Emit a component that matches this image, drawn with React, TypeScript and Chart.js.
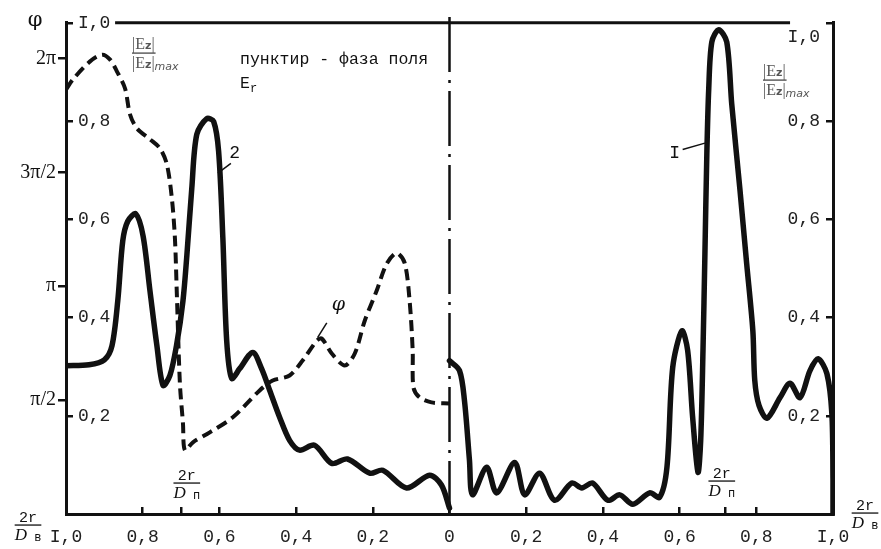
import React, { useEffect, useRef } from 'react';
import { Chart, registerables } from 'chart.js';

Chart.register(...registerables);

// ---- data (x = 2r/D_в read on the axis; left half is plotted to the left of 0) ----
const curve2R = [1.0, 0.94, 0.9, 0.88, 0.865, 0.852, 0.839, 0.818, 0.799, 0.781, 0.763, 0.747, 0.729, 0.711, 0.695, 0.685, 0.672, 0.659, 0.633, 0.615, 0.602, 0.591, 0.581, 0.568, 0.547, 0.513, 0.49, 0.469, 0.443, 0.417, 0.391, 0.352, 0.307, 0.266, 0.208, 0.174, 0.112, 0.052, 0.021, 0.0];
const curve2E = [0.302, 0.304, 0.314, 0.343, 0.434, 0.556, 0.596, 0.611, 0.566, 0.454, 0.343, 0.262, 0.282, 0.347, 0.434, 0.525, 0.663, 0.773, 0.805, 0.799, 0.738, 0.562, 0.353, 0.276, 0.296, 0.329, 0.296, 0.252, 0.197, 0.15, 0.13, 0.14, 0.103, 0.112, 0.083, 0.089, 0.053, 0.079, 0.059, 0.012];

// phase of E_r, in units of π/2
const phaseR = [1.0, 0.982, 0.938, 0.906, 0.885, 0.867, 0.846, 0.833, 0.815, 0.781, 0.755, 0.737, 0.724, 0.716, 0.711, 0.703, 0.695, 0.69, 0.669, 0.625, 0.565, 0.495, 0.461, 0.417, 0.383, 0.346, 0.333, 0.307, 0.273, 0.247, 0.221, 0.19, 0.164, 0.138, 0.117, 0.104, 0.096, 0.094, 0.078, 0.047, 0.0];
const phaseV = [3.727, 3.815, 3.972, 4.033, 3.99, 3.885, 3.736, 3.508, 3.386, 3.29, 3.211, 3.071, 2.773, 2.423, 1.934, 1.146, 0.796, 0.56, 0.63, 0.717, 0.849, 1.085, 1.172, 1.216, 1.347, 1.522, 1.54, 1.409, 1.304, 1.409, 1.697, 1.96, 2.196, 2.292, 2.205, 1.872, 1.435, 1.111, 1.024, 0.98, 0.971];

const curveIR = [0.0, 0.026, 0.039, 0.052, 0.06, 0.097, 0.123, 0.17, 0.196, 0.235, 0.274, 0.319, 0.345, 0.373, 0.413, 0.444, 0.478, 0.522, 0.548, 0.567, 0.582, 0.606, 0.621, 0.634, 0.648, 0.655, 0.661, 0.666, 0.671, 0.676, 0.684, 0.702, 0.723, 0.736, 0.757, 0.775, 0.791, 0.796, 0.807, 0.828, 0.862, 0.888, 0.914, 0.94, 0.961, 0.984, 0.997, 1.0, 1.0];
const curveIE = [0.312, 0.292, 0.231, 0.11, 0.039, 0.095, 0.043, 0.105, 0.039, 0.083, 0.028, 0.063, 0.053, 0.063, 0.028, 0.039, 0.02, 0.043, 0.034, 0.095, 0.298, 0.373, 0.333, 0.197, 0.085, 0.15, 0.333, 0.529, 0.732, 0.866, 0.961, 0.986, 0.961, 0.834, 0.663, 0.509, 0.373, 0.272, 0.221, 0.195, 0.237, 0.266, 0.237, 0.292, 0.316, 0.286, 0.205, 0.069, 0.0];

// ticks
const xTickVals = [-1, -0.8, -0.6, -0.4, -0.2, 0, 0.2, 0.4, 0.6, 0.8, 1];
const dpMarks = [-0.7, 0.72]; // 2r/D_п markers
const ezTicks = [0.2, 0.4, 0.6, 0.8, 1.0];
const phiTicks = [1, 2, 3, 4];
const phiLabels = ['π/2', 'π', '3π/2', '2π'];
const phiMax = 4.313;

// decorations (data coordinates)
const topLineX = [-0.872, 0.888];
const centreLineY = [1.012, 0];
const leader2 = [[-0.604, 0.694], [-0.57, 0.714]];
const leaderPhi = [[-0.344, 0.359], [-0.32, 0.389]];
const leaderI = [[0.608, 0.742], [0.666, 0.755]];

const INK = '#111';
const MONO = '"Liberation Mono", "DejaVu Sans Mono", monospace';
const SERIF = '"Liberation Serif", "DejaVu Serif", serif';

const fmt = (v: number) => {
  if (dpMarks.includes(v)) return '';
  const a = Math.abs(v);
  if (a === 1) return 'I,0';
  if (a === 0) return '0';
  return a.toFixed(1).replace('.', ',');
};

type Part = [string, string, number];
function partsWidth(ctx: CanvasRenderingContext2D, parts: Part[]) {
  let w = 0;
  for (const [t, f] of parts) { ctx.font = f; w += ctx.measureText(t).width; }
  return w;
}
function drawParts(ctx: CanvasRenderingContext2D, x: number, y: number, parts: Part[]) {
  let cx = x;
  ctx.textAlign = 'left';
  for (const [t, f, dy] of parts) { ctx.font = f; ctx.fillText(t, cx, y + dy); cx += ctx.measureText(t).width; }
  return cx - x;
}

function rdFrac(ctx: CanvasRenderingContext2D, cx: number, barY: number, sub: string) {
  const num: Part[] = [['2r', `15px ${MONO}`, 0]];
  const den: Part[] = [['D', `italic 17px ${SERIF}`, 0], [' ' + sub, `12px ${MONO}`, 1]];
  const wn = partsWidth(ctx, num);
  const wd = partsWidth(ctx, den);
  const w = Math.max(wn, wd);
  drawParts(ctx, cx - wn / 2, barY - 3, num);
  ctx.fillRect(cx - w / 2, barY - 0.6, w, 1.3);
  drawParts(ctx, cx - wd / 2, barY + 15, den);
}

function ezFrac(ctx: CanvasRenderingContext2D, x0: number, barY: number) {
  ctx.fillStyle = '#555';
  const num: Part[] = [['|', `16px ${SERIF}`, 0], ['E', `16px ${SERIF}`, 0], ['z', `bold 11px "DejaVu Sans"`, 0], ['|', `16px ${SERIF}`, 0]];
  const den: Part[] = [['|', `16px ${SERIF}`, 0], ['E', `16px ${SERIF}`, 0], ['z', `bold 11px "DejaVu Sans"`, 0], ['|', `16px ${SERIF}`, 0], ['max', `italic 11px "DejaVu Sans"`, 2]];
  const wn = drawParts(ctx, x0, barY - 4, num);
  ctx.fillRect(x0, barY - 0.6, wn + 1, 1.4);
  drawParts(ctx, x0, barY + 15, den);
  ctx.fillStyle = INK;
}

const overlay = {
  id: 'overlay',
  afterDraw(chart: any) {
    const { ctx, scales } = chart;
    const xs = scales.x;
    const ys = scales.yL;
    const yr = scales.yR;
    const px = (v: number) => xs.getPixelForValue(v);
    const py = (v: number) => ys.getPixelForValue(v);
    ctx.save();
    ctx.fillStyle = INK;
    ctx.textBaseline = 'alphabetic';

    // φ axis title
    ctx.font = `21px "DejaVu Serif"`;
    ctx.textAlign = 'center';
    ctx.textBaseline = 'middle';
    ctx.fillText('φ', 35, 21);

    // right-axis top label sits just below its tick
    ctx.fillStyle = '#222';
    ctx.font = `18px ${MONO}`;
    ctx.textAlign = 'right';
    ctx.fillText(fmt(1), yr.left - 13, yr.getPixelForValue(1) + 14);
    ctx.fillStyle = INK;
    ctx.textBaseline = 'alphabetic';

    // |Ez| / |Ez|max titles
    ezFrac(ctx, 132, 53);
    ezFrac(ctx, 763, 80);

    // legend note
    ctx.font = `16.5px ${MONO}`;
    ctx.textAlign = 'left';
    ctx.fillText('пунктир - фаза поля', 240, 64);
    drawParts(ctx, 240, 88, [['E', `16.5px ${MONO}`, 0], ['r', `12px ${MONO}`, 4]]);

    // curve labels
    ctx.textBaseline = 'middle';
    ctx.textAlign = 'center';
    ctx.font = `18px ${MONO}`;
    ctx.fillText('2', px(-0.56), py(0.735));
    ctx.fillText('I', px(0.587), py(0.735));
    ctx.font = `italic 19px "DejaVu Serif"`;
    ctx.fillText('φ', px(-0.29), py(0.425));
    ctx.textBaseline = 'alphabetic';

    // 2r/D fractions
    rdFrac(ctx, px(-0.685), 483, 'п');
    rdFrac(ctx, px(0.71), 481, 'п');
    rdFrac(ctx, 28, 525, 'в');
    rdFrac(ctx, 865, 513, 'в');
    ctx.restore();
  },
};

const line = (xs: number[], ys: number[], sign: number) => xs.map((r, i) => ({ x: sign * r, y: ys[i] }));
const seg = (pts: number[][]) => pts.map(([x, y]) => ({ x, y }));

export default function App() {
  const ref = useRef<HTMLCanvasElement>(null);
  useEffect(() => {
    const chart = new Chart(ref.current as HTMLCanvasElement, {
      type: 'line',
      data: {
        datasets: [
          {
            data: line(curve2R, curve2E, -1), yAxisID: 'yL', borderColor: INK, borderWidth: 5.5,
            tension: 0.3, pointRadius: 0, borderJoinStyle: 'round', borderCapStyle: 'round',
          },
          {
            data: line(curveIR, curveIE, 1), yAxisID: 'yL', borderColor: INK, borderWidth: 5.5,
            tension: 0.3, pointRadius: 0, borderJoinStyle: 'round', borderCapStyle: 'round',
          },
          {
            data: line(phaseR, phaseV, -1), yAxisID: 'yPhi', borderColor: INK, borderWidth: 4,
            borderDash: [11, 6], tension: 0.3, pointRadius: 0,
          },
          {
            data: centreLineY.map((y) => ({ x: 0, y })), yAxisID: 'yL', borderColor: INK, borderWidth: 2.5,
            borderDash: [55, 8, 3, 8], pointRadius: 0, clip: false as any,
          },
          {
            data: topLineX.map((x) => ({ x, y: 1.0 })), yAxisID: 'yL', borderColor: INK, borderWidth: 3,
            pointRadius: 0, clip: false as any,
          },
          { data: seg(leader2), yAxisID: 'yL', borderColor: INK, borderWidth: 1.5, pointRadius: 0 },
          { data: seg(leaderPhi), yAxisID: 'yL', borderColor: INK, borderWidth: 1.5, pointRadius: 0 },
          { data: seg(leaderI), yAxisID: 'yL', borderColor: INK, borderWidth: 1.5, pointRadius: 0 },
        ],
      },
      options: {
        responsive: false,
        maintainAspectRatio: false,
        animation: false,
        events: [],
        layout: { padding: { top: 21, left: 0, right: 0, bottom: 0 } },
        plugins: { legend: { display: false }, tooltip: { enabled: false }, title: { display: false } },
        scales: {
          x: {
            type: 'linear', min: -1, max: 1, position: 'bottom',
            afterBuildTicks: (s: any) => {
              s.ticks = [...xTickVals, ...dpMarks].sort((a, b) => a - b).map((v) => ({ value: v }));
            },
            afterFit: (s: any) => { s.height = 35; },
            ticks: {
              autoSkip: false, maxRotation: 0, padding: 19, color: '#222',
              font: { family: MONO, size: 18 },
              callback: (v: any) => fmt(Number(v)),
            },
            grid: { drawOnChartArea: false, drawTicks: true, tickLength: -7, color: INK, lineWidth: 2.5 },
            border: { display: true, color: INK, width: 3 },
          },
          yPhi: {
            type: 'linear', position: 'left', min: 0, max: phiMax, weight: 1,
            afterBuildTicks: (s: any) => { s.ticks = phiTicks.map((v) => ({ value: v })); },
            afterFit: (s: any) => { s.width = 66; },
            ticks: {
              padding: 2, color: INK, font: { family: SERIF, size: 20 },
              callback: (v: any) => phiLabels[phiTicks.indexOf(Number(v))] ?? '',
            },
            grid: { drawOnChartArea: false, tickLength: 8, color: INK, lineWidth: 2.5 },
            border: { display: true, color: INK, width: 3 },
          },
          yL: {
            type: 'linear', position: 'left', min: 0, max: 1, weight: 0,
            afterBuildTicks: (s: any) => { s.ticks = ezTicks.map((v) => ({ value: v })); },
            afterFit: (s: any) => { s.width = 0; },
            ticks: {
              mirror: true, padding: 12, color: '#222', font: { family: MONO, size: 18 },
              callback: (v: any) => fmt(Number(v)),
            },
            grid: { drawOnChartArea: false, tickLength: -7, color: INK, lineWidth: 2.5 },
            border: { display: false },
          },
          yR: {
            type: 'linear', position: 'right', min: 0, max: 1,
            afterBuildTicks: (s: any) => { s.ticks = ezTicks.map((v) => ({ value: v })); },
            afterFit: (s: any) => { s.width = 48; },
            ticks: {
              mirror: true, padding: -13, color: '#222', font: { family: MONO, size: 18 },
              callback: (v: any) => (Number(v) === 1 ? '' : fmt(Number(v))),
            },
            grid: { drawOnChartArea: false, tickLength: -7, color: INK, lineWidth: 2.5 },
            border: { display: true, color: INK, width: 3 },
          },
        },
      } as any,
      plugins: [overlay],
    });
    return () => chart.destroy();
  }, []);

  return (
    <div style={{ position: 'absolute', left: 0, top: 0, width: 881, height: 549, background: '#fff' }}>
      <canvas ref={ref} width={881} height={549} style={{ display: 'block' }} />
    </div>
  );
}
